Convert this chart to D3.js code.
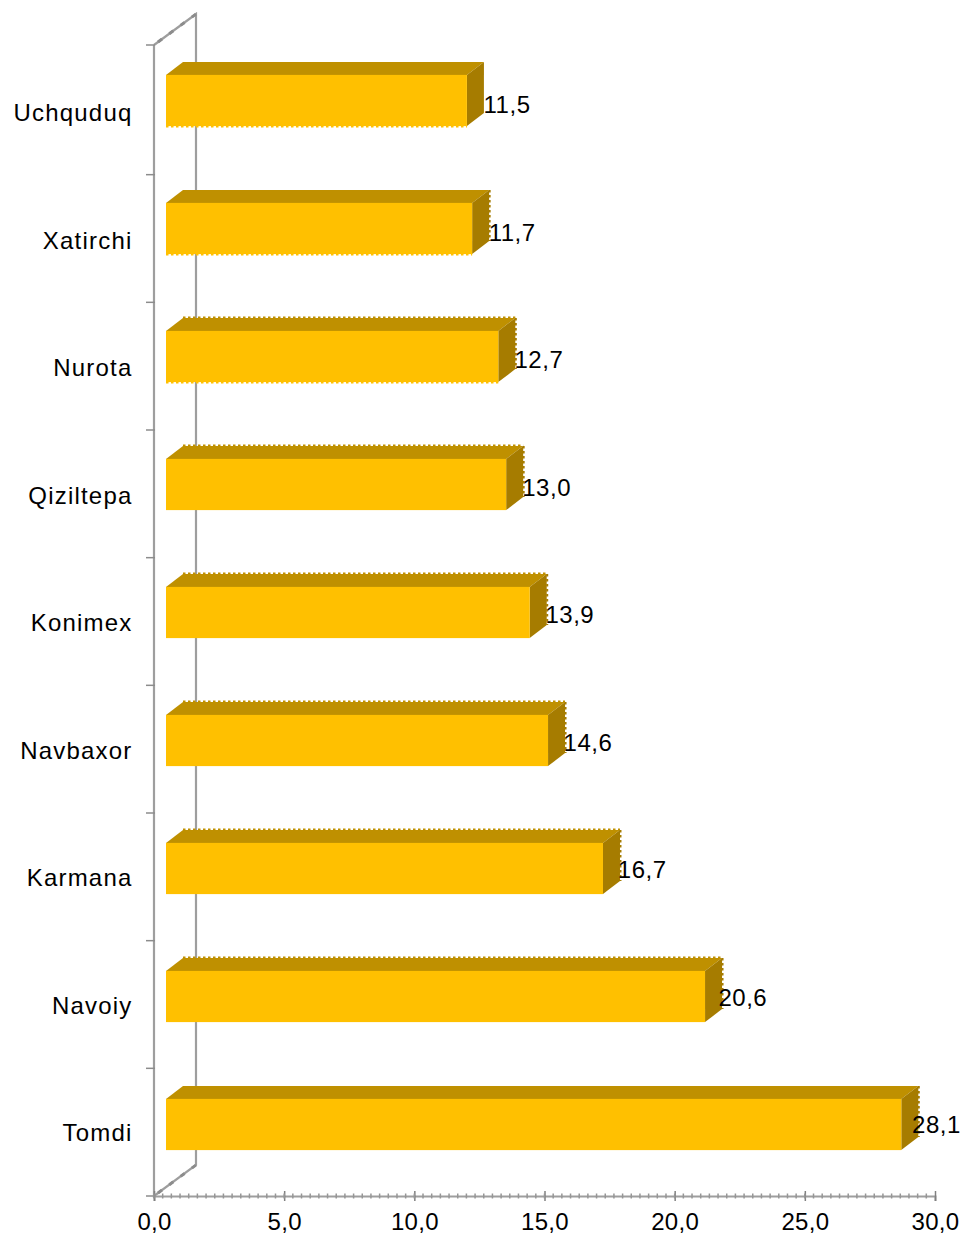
<!DOCTYPE html>
<html>
<head>
<meta charset="utf-8">
<script src="https://cdn.jsdelivr.net/npm/d3@7"></script>
<style>
  html, body { margin: 0; padding: 0; background: #fff; }
  svg { display: block; }
  text { font-family: "Liberation Sans", Arial, sans-serif; fill: #000; }
</style>
</head>
<body>
<svg width="962" height="1236"></svg>
<script>
// chart values, top to bottom
var categories = ["Uchquduq", "Xatirchi", "Nurota", "Qiziltepa", "Konimex", "Navbaxor", "Karmana", "Navoiy", "Tomdi"];
var values = [11.5, 11.7, 12.7, 13.0, 13.9, 14.6, 16.7, 20.6, 28.1];
var xTicks = [0, 5, 10, 15, 20, 25, 30];

var svg = d3.select("svg");
var fmt = function(d) { return d.toFixed(1).replace(".", ","); };

var depthX = 17, depthY = 13;      // bar extrusion
var wallX = 42, wallY = 31;        // floor / back wall offset
var axisColor = "#9e9e9e";

// floor axis, the bars' front plane and the value labels all run on slightly different scales
var xAxisScale = d3.scaleLinear().domain([0, 30]).range([154, 935]);
var xBar = d3.scaleLinear().domain([0, 30]).range([166, 951]);
var xValue = d3.scaleLinear().domain([0, 30]).range([186.7, 961.1]);

var yBar = d3.scaleBand().domain(categories).range([36.5, 1188.5]).paddingInner(0.6).paddingOuter(0.3);
var yLabel = d3.scalePoint().domain(categories).range([121, 1141]);
var yValue = d3.scalePoint().domain(categories).range([113, 1133]);
var yWall = d3.scaleLinear().domain([0, categories.length]).range([47, 1196]);

// 3d frame
var frame = svg.append("g").attr("fill", "none").attr("stroke", axisColor).attr("stroke-width", 2.2);
frame.append("path").attr("d", d3.line()([[154, 45], [154 + wallX, 45 - wallY], [154 + wallX, 1196 - wallY], [154, 1196], [154, 45]]));

// the diagonals are lumpy in the original
frame.selectAll(".lump")
    .data([45, 1196])
    .enter().append("line")
    .attr("class", "lump")
    .attr("x1", 158).attr("x2", 196)
    .attr("y1", function(d) { return d - 3; })
    .attr("y2", function(d) { return d - wallY; })
    .attr("stroke", "#8c8c8c")
    .attr("stroke-width", 3)
    .attr("stroke-dasharray", "5 9");

// category ticks on left axis
svg.append("g").selectAll("line")
    .data(d3.range(categories.length + 1))
    .enter().append("line")
    .attr("x1", 146).attr("x2", 155)
    .attr("y1", function(d) { return d === 0 ? 45 : yWall(d); })
    .attr("y2", function(d) { return d === 0 ? 45 : yWall(d); })
    .attr("stroke", "#8c8c8c")
    .attr("stroke-width", 1.5);

// bottom axis
var axis = svg.append("g")
    .attr("transform", "translate(0,1196)")
    .call(d3.axisBottom(xAxisScale).tickValues(xTicks).tickFormat(fmt).tickSize(5).tickPadding(12));
axis.select(".domain").attr("stroke", axisColor).attr("stroke-width", 2);
axis.selectAll(".tick line").attr("stroke", "#808080").attr("stroke-width", 1.5).attr("y1", -5);
axis.selectAll("text").attr("font-size", 24).attr("font-family", "Liberation Sans").attr("fill", "#000").attr("letter-spacing", 0.3);

// wiggle along the bottom axis line
svg.append("g").selectAll("line")
    .data(d3.range(0, 30, 1 / 3))
    .enter().append("line")
    .attr("x1", function(d) { return xAxisScale(d); })
    .attr("x2", function(d) { return xAxisScale(d); })
    .attr("y1", 1193.5).attr("y2", 1198.5)
    .attr("stroke", "#969696")
    .attr("stroke-width", 1.5);

// bars
var bar = svg.selectAll(".bar")
    .data(categories)
    .enter().append("g")
    .attr("class", "bar");

// top face
bar.append("path")
    .attr("fill", "#bf9000")
    .attr("d", function(d, i) {
        var x0 = xBar(0), x1 = xBar(values[i]), y = yBar(d);
        return d3.line()([[x0, y], [x0 + depthX, y - depthY], [x1 + depthX, y - depthY], [x1, y]]) + "Z";
    });

// right side face
bar.append("path")
    .attr("fill", "#a67c00")
    .attr("d", function(d, i) {
        var x1 = xBar(values[i]), y = yBar(d), h = yBar.bandwidth();
        return d3.line()([[x1, y], [x1 + depthX, y - depthY], [x1 + depthX, y + h - depthY], [x1, y + h]]) + "Z";
    });

// front face
bar.append("rect")
    .attr("fill", "#ffc000")
    .attr("x", xBar(0))
    .attr("y", function(d) { return yBar(d); })
    .attr("width", function(d, i) { return xBar(values[i]) - xBar(0); })
    .attr("height", yBar.bandwidth());

// jagged edges: top on the middle bars, side on all but the first, bottom on the first three
bar.filter(function(d, i) { return i >= 2 && i < 8; }).append("line")
    .attr("x1", xBar(0) + depthX)
    .attr("x2", function(d) { return xBar(values[categories.indexOf(d)]) + depthX; })
    .attr("y1", function(d) { return yBar(d) - depthY - 0.5; })
    .attr("y2", function(d) { return yBar(d) - depthY - 0.5; })
    .attr("stroke", "#bf9000").attr("stroke-width", 2).attr("stroke-dasharray", "2.5 2.5");

bar.filter(function(d, i) { return i >= 1; }).append("line")
    .attr("x1", function(d) { return xBar(values[categories.indexOf(d)]) + depthX + 0.5; })
    .attr("x2", function(d) { return xBar(values[categories.indexOf(d)]) + depthX + 0.5; })
    .attr("y1", function(d) { return yBar(d) - depthY; })
    .attr("y2", function(d) { return yBar(d) + yBar.bandwidth() - depthY; })
    .attr("stroke", "#a67c00").attr("stroke-width", 2).attr("stroke-dasharray", "2.5 2.5");

bar.filter(function(d, i) { return i < 3; }).append("line")
    .attr("x1", xBar(0))
    .attr("x2", function(d) { return xBar(values[categories.indexOf(d)]); })
    .attr("y1", function(d) { return yBar(d) + yBar.bandwidth() + 0.5; })
    .attr("y2", function(d) { return yBar(d) + yBar.bandwidth() + 0.5; })
    .attr("stroke", "#ffc000").attr("stroke-width", 2).attr("stroke-dasharray", "2.5 2.5");

// value labels, sit past the side face
bar.append("text")
    .attr("x", function(d, i) { return xValue(values[i]); })
    .attr("y", function(d) { return yValue(d); })
    .attr("font-size", 24)
    .attr("letter-spacing", 0.5)
    .text(function(d, i) { return fmt(values[i]); });

// category labels
svg.append("g").selectAll("text")
    .data(categories)
    .enter().append("text")
    .attr("x", 132.5)
    .attr("y", function(d) { return yLabel(d); })
    .attr("text-anchor", "end")
    .attr("font-size", 24)
    .attr("letter-spacing", 1.2)
    .text(function(d) { return d; });
</script>
</body>
</html>
